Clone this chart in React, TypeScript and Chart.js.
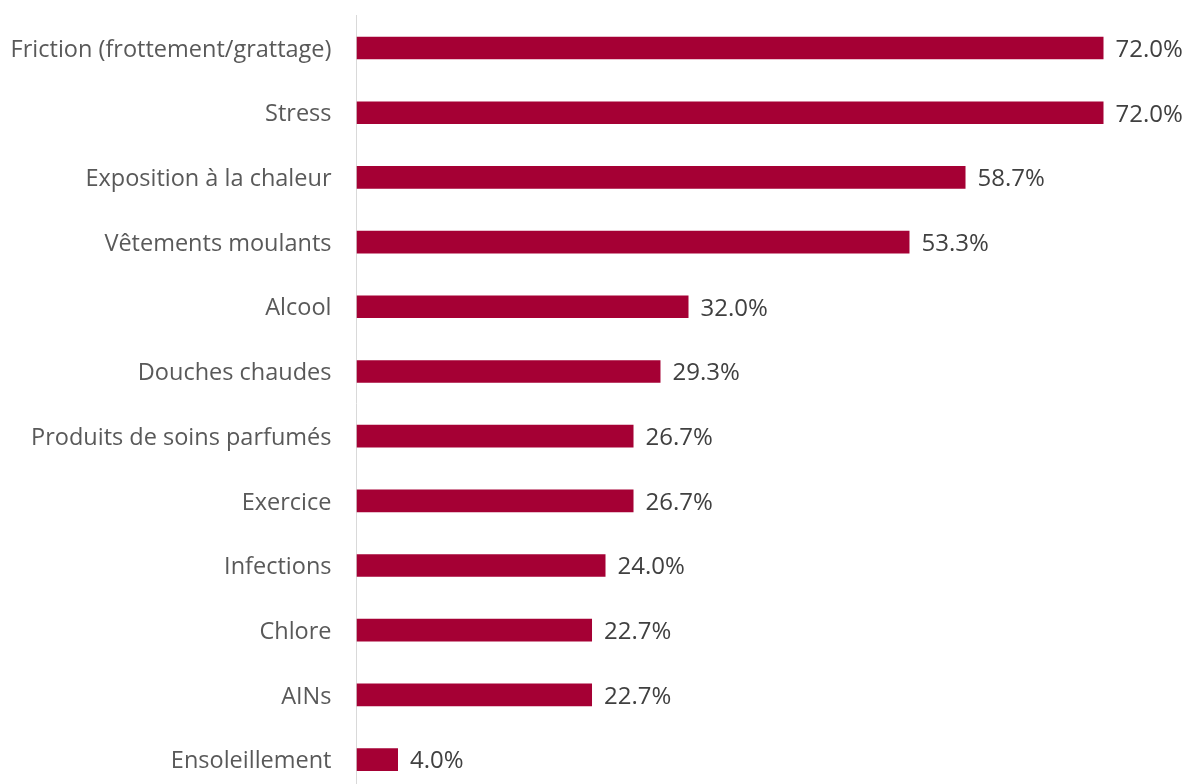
import React, { useEffect, useRef } from "react";
import { Chart, registerables } from "chart.js";

Chart.register(...registerables);

const categories = [
  "Friction (frottement/grattage)",
  "Stress",
  "Exposition à la chaleur",
  "Vêtements moulants",
  "Alcool",
  "Douches chaudes",
  "Produits de soins parfumés",
  "Exercice",
  "Infections",
  "Chlore",
  "AINs",
  "Ensoleillement",
];

const values = [72.0, 72.0, 58.7, 53.3, 32.0, 29.3, 26.7, 26.7, 24.0, 22.7, 22.7, 4.0];

const FONT = "'Open Sans', sans-serif";

const valueLabels = {
  id: "valueLabels",
  afterDatasetsDraw(chart: any) {
    const ctx = chart.ctx;
    const meta = chart.getDatasetMeta(0);
    ctx.save();
    ctx.fillStyle = "#404040";
    ctx.font = `24px ${FONT}`;
    ctx.textAlign = "left";
    ctx.textBaseline = "middle";
    meta.data.forEach((bar: any, i: number) => {
      ctx.fillText(values[i].toFixed(1) + "%", bar.x + 12, bar.y + 2);
    });
    ctx.restore();
  },
};

export default function App() {
  const ref = useRef<HTMLCanvasElement>(null);
  useEffect(() => {
    if (!ref.current) return;
    const chart = new Chart(ref.current, {
      type: "bar",
      data: {
        labels: categories,
        datasets: [
          {
            data: values,
            backgroundColor: "#A50034",
            barPercentage: 0.35,
            categoryPercentage: 1,
          },
        ],
      },
      options: {
        indexAxis: "y",
        animation: false,
        responsive: false,
        maintainAspectRatio: false,
        layout: { padding: { top: 15.7, bottom: 9.2, left: 0, right: 2.5 } },
        plugins: {
          legend: { display: false },
          tooltip: { enabled: false },
        },
        scales: {
          x: { display: false, min: 0, max: 80 },
          y: {
            afterFit(scale: any) {
              scale.width = 356.5;
            },
            grid: {
              display: true,
              drawOnChartArea: false,
              drawTicks: true,
              tickLength: 25,
              color: "rgba(0,0,0,0)",
            },
            border: { display: true, color: "#d9d9d9", width: 1 },
            ticks: {
              padding: 0,
              labelOffset: 2,
              color: "#595959",
              font: { family: FONT, size: 23.5 },
              autoSkip: false,
            },
          },
        },
      },
      plugins: [valueLabels],
    });
    return () => chart.destroy();
  }, []);
  return (
    <div
      style={{
        position: "fixed",
        left: 0,
        top: 0,
        width: 1189,
        height: 784,
        overflow: "hidden",
        background: "#fff",
      }}
    >
      <canvas ref={ref} width={1189} height={806} style={{ width: 1189, height: 806, display: "block" }} />
    </div>
  );
}
